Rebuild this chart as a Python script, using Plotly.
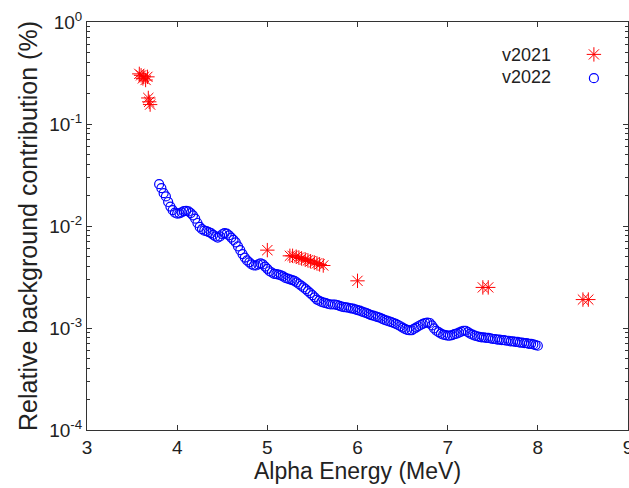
import plotly.graph_objects as go

# v2022 (blue open circles)
e2022 = [3.800, 3.825, 3.850, 3.875, 3.900, 3.925, 3.950, 3.975, 4.000, 4.025, 4.050, 4.075, 4.100, 4.125, 4.150,
         4.175, 4.200, 4.225, 4.250, 4.275, 4.300, 4.325, 4.350, 4.375, 4.400, 4.425, 4.450, 4.475, 4.500, 4.525,
         4.550, 4.575, 4.600, 4.625, 4.650, 4.675, 4.700, 4.725, 4.750, 4.775, 4.800, 4.825, 4.850, 4.875, 4.900,
         4.925, 4.950, 4.975, 5.000, 5.025, 5.050, 5.075, 5.100, 5.125, 5.150, 5.175, 5.200, 5.225, 5.250, 5.275,
         5.300, 5.325, 5.350, 5.375, 5.400, 5.425, 5.450, 5.475, 5.500, 5.525, 5.550, 5.575, 5.600, 5.625, 5.650,
         5.675, 5.700, 5.725, 5.750, 5.775, 5.800, 5.825, 5.850, 5.875, 5.900, 5.925, 5.950, 5.975, 6.000, 6.025,
         6.050, 6.075, 6.100, 6.125, 6.150, 6.175, 6.200, 6.225, 6.250, 6.275, 6.300, 6.325, 6.350, 6.375, 6.400,
         6.425, 6.450, 6.475, 6.500, 6.525, 6.550, 6.575, 6.600, 6.625, 6.650, 6.675, 6.700, 6.725, 6.750, 6.775,
         6.800, 6.825, 6.850, 6.875, 6.900, 6.925, 6.950, 6.975, 7.000, 7.025, 7.050, 7.075, 7.100, 7.125, 7.150,
         7.175, 7.200, 7.225, 7.250, 7.275, 7.300, 7.325, 7.350, 7.375, 7.400, 7.425, 7.450, 7.475, 7.500, 7.525,
         7.550, 7.575, 7.600, 7.625, 7.650, 7.675, 7.700, 7.725, 7.750, 7.775, 7.800, 7.825, 7.850, 7.875, 7.900,
         7.925, 7.950, 7.975, 8.000]
v2022 = [0.0257, 0.0235, 0.0210, 0.0195, 0.0172, 0.0155, 0.0143, 0.0135, 0.0132, 0.0133, 0.0136, 0.0140, 0.0141, 0.0139, 0.0134,
         0.0127, 0.0118, 0.0107, 0.0098, 0.0093, 0.0090, 0.0089, 0.0087, 0.0085, 0.0082, 0.0079, 0.0077, 0.0079, 0.0083, 0.0085,
         0.0084, 0.0081, 0.0077, 0.0073, 0.0069, 0.0063, 0.0058, 0.0053, 0.0049, 0.0046, 0.0044, 0.0042, 0.0041, 0.0041, 0.0042,
         0.0043, 0.0042, 0.0040, 0.0038, 0.0036, 0.0035, 0.0034, 0.00338, 0.00333, 0.00328, 0.0032, 0.0031, 0.00305, 0.0030, 0.00295,
         0.0029, 0.0028, 0.0027, 0.0026, 0.0025, 0.0024, 0.0023, 0.0022, 0.0021, 0.0020, 0.0019, 0.00185, 0.0018, 0.00177, 0.00175,
         0.00172, 0.0017, 0.0017, 0.0017, 0.00168, 0.00165, 0.00162, 0.0016, 0.00159, 0.00158, 0.00156, 0.00155, 0.00152, 0.0015, 0.00148,
         0.00145, 0.00142, 0.0014, 0.00137, 0.00134, 0.00132, 0.0013, 0.00128, 0.00126, 0.00123, 0.0012, 0.00118, 0.00116, 0.00114, 0.00112,
         0.0011, 0.00107, 0.00104, 0.00101, 0.00098, 0.00096, 0.00095, 0.00095, 0.00098, 0.00101, 0.00104, 0.00107, 0.0011, 0.00112, 0.00113,
         0.00112, 0.00106, 0.00099, 0.00094, 0.00091, 0.00088, 0.00086, 0.00085, 0.00084, 0.00084, 0.00085, 0.00087, 0.00088, 0.0009, 0.00092,
         0.00094, 0.00094, 0.00091, 0.00088, 0.00086, 0.00084, 0.00083, 0.00082, 0.00081, 0.00081, 0.0008, 0.0008, 0.00079, 0.00078, 0.00078,
         0.00077, 0.00077, 0.00076, 0.00076, 0.00075, 0.00075, 0.00074, 0.00074, 0.00073, 0.00073, 0.00072, 0.00072, 0.00071, 0.00071, 0.0007,
         0.0007, 0.00069, 0.00068, 0.00067]

# v2021 (red asterisks)
e2021 = [3.58, 3.60, 3.62, 3.63, 3.65, 3.67, 3.68, 3.69, 3.70, 5.00,
         5.25, 5.28, 5.32, 5.35, 5.38, 5.42, 5.45, 5.48, 5.52, 5.55, 5.58, 5.62,
         6.00, 7.39, 7.45, 8.50, 8.56]
v2021 = [0.31, 0.30, 0.28, 0.29, 0.27, 0.29, 0.18, 0.165, 0.155, 0.0058,
         0.0051, 0.0051, 0.0050, 0.0049, 0.0048, 0.0047, 0.0046, 0.0045, 0.0044, 0.0043, 0.0042, 0.0041,
         0.0029, 0.0025, 0.0025, 0.0019, 0.0019]

series_names = ["v2021", "v2022"]
ytick_vals = [1e-4, 1e-3, 1e-2, 1e-1, 1]
ytick_text = ["10<sup>-4</sup>", "10<sup>-3</sup>", "10<sup>-2</sup>", "10<sup>-1</sup>", "10<sup>0</sup>"]
yminor_vals = [m * d for d in [1e-4, 1e-3, 1e-2, 1e-1] for m in range(2, 10)]
xtick_vals = [3, 4, 5, 6, 7, 8, 9]

font = "Liberation Sans, Arial, sans-serif"
axcol = "#333333"
txtcol = "#222222"

fig = go.Figure()
fig.add_trace(go.Scatter(x=e2021, y=v2021, mode="markers", name=" ",
                         marker=dict(symbol="asterisk-open", size=12, color="red",
                                     line=dict(color="red", width=1))))
fig.add_trace(go.Scatter(x=e2022, y=v2022, mode="markers", name=" ",
                         marker=dict(symbol="circle-open", size=9, color="blue",
                                     line=dict(color="blue", width=1.2))))

L, R, T, B = 87, 1, 22, 58
W, H = 629, 488
pw, ph = W - L - R, H - T - B
anns = []
for a, py in zip(series_names, [55, 77]):
    anns.append(dict(text=a, x=(553 - L) / pw, y=1 - (py - T) / ph, xref="paper", yref="paper",
                     xanchor="right", yanchor="middle", showarrow=False,
                     font=dict(size=18, family=font, color=txtcol)))

fig.update_layout(
    width=W, height=H,
    margin=dict(l=L, r=R, t=T, b=B, autoexpand=False),
    paper_bgcolor="white", plot_bgcolor="white",
    font=dict(family=font, color=txtcol, size=18),
    showlegend=True,
    legend=dict(x=0.9, y=0.962, xanchor="left", yanchor="top",
                bgcolor="rgba(0,0,0,0)", font=dict(size=16), tracegroupgap=0,
                itemwidth=30),
    annotations=anns,
)

fig.update_xaxes(range=[3, 9], tickvals=xtick_vals, ticks="inside", ticklen=5, tickcolor=axcol,
                 showline=True, linecolor=axcol, linewidth=1, mirror="allticks",
                 showgrid=False, zeroline=False, tickfont=dict(size=19), automargin=False,
                 ticklabeloverflow="allow",
                 title=dict(text="Alpha Energy (MeV)", font=dict(size=23), standoff=6))
fig.update_yaxes(type="log", range=[-4, 0], tickmode="array", tickvals=ytick_vals, ticktext=ytick_text,
                 ticks="inside", ticklen=5, tickcolor=axcol, showline=True, linecolor=axcol, linewidth=1,
                 mirror="allticks", showgrid=False, zeroline=False, tickfont=dict(size=19), automargin=False,
                 minor=dict(tickmode="array", tickvals=yminor_vals, ticks="inside", ticklen=3,
                            tickcolor=axcol, showgrid=False),
                 title=dict(text="Relative background contribution (%)", font=dict(size=25), standoff=4))

fig.write_html("out.html")
